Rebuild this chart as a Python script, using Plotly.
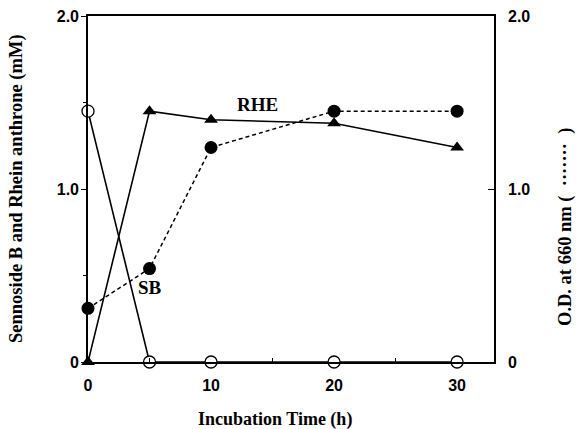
import plotly.graph_objects as go

time_h = [0, 5, 10, 20, 30]
sb_mM = [1.45, 0.0, 0.0, 0.0, 0.0]
rhe_mM = [0.0, 1.45, 1.40, 1.38, 1.24]
od_660 = [0.31, 0.54, 1.24, 1.45, 1.45]

x_ticks = [0, 10, 20, 30]
y_ticks = [0, 1, 2]
y_ticktext = ["0", "1.0", "2.0"]

tickfont = dict(family="Liberation Sans", size=16, color="black")
serif = "Liberation Serif"

fig = go.Figure()
fig.add_trace(go.Scatter(
    x=time_h, y=od_660, yaxis="y2", mode="lines+markers",
    line=dict(color="black", width=1.5, dash="4px,3px"),
    marker=dict(symbol="circle", size=13, color="black"),
    cliponaxis=False, showlegend=False, hoverinfo="skip"))
fig.add_trace(go.Scatter(
    x=time_h, y=sb_mM, mode="lines+markers",
    line=dict(color="black", width=1.6),
    marker=dict(symbol="circle", size=12, color="white",
                line=dict(color="black", width=1.3)),
    cliponaxis=False, showlegend=False, hoverinfo="skip"))
fig.add_trace(go.Scatter(
    x=time_h, y=rhe_mM, mode="lines+markers",
    line=dict(color="black", width=1.6),
    marker=dict(symbol="triangle-up", size=12, color="black"),
    cliponaxis=False, showlegend=False, hoverinfo="skip"))

fig.add_annotation(x=13.8, y=1.49, text="<b>RHE</b>", showarrow=False,
                   xanchor="center", yanchor="middle",
                   font=dict(family=serif, size=19, color="black"))
fig.add_annotation(x=5.0, y=0.43, text="<b>SB</b>", showarrow=False,
                   xanchor="center", yanchor="middle",
                   font=dict(family=serif, size=19, color="black"))

# axis titles
fig.add_annotation(xref="paper", yref="paper", x=0, y=0.5, xshift=-72,
                   xanchor="center", yanchor="middle",
                   textangle=-90, showarrow=False,
                   text="<b>Sennoside B and Rhein anthrone (mM)</b>",
                   font=dict(family=serif, size=18.5, color="black"))
fig.add_annotation(xref="paper", yref="paper", x=1, y=0.5, xshift=71,
                   yshift=-38, xanchor="center", yanchor="middle",
                   textangle=-90, showarrow=False,
                   text="<b>O.D. at 660 nm (  ·······  )</b>",
                   font=dict(family=serif, size=18.5, color="black"))
fig.add_annotation(xref="paper", yref="paper", x=0.5, y=0, yshift=-57,
                   xshift=-16, xanchor="center", yanchor="middle",
                   showarrow=False, text="<b>Incubation Time (h)</b>",
                   font=dict(family=serif, size=18, color="black"))

fig.update_layout(
    width=576, height=429,
    margin=dict(l=88, r=82, t=16, b=67),
    plot_bgcolor="white", paper_bgcolor="white",
    hovermode=False,
    xaxis=dict(range=[0, 33], tickvals=x_ticks,
               ticktext=["<b>%d</b>" % v for v in x_ticks],
               tickfont=tickfont, showgrid=False, zeroline=False,
               showline=True, linecolor="black", linewidth=1.6, mirror=True,
               ticks="inside", ticklen=0, ticklabelstandoff=8,
               minor=dict(tickvals=[5, 15, 25], ticks="inside", ticklen=4,
                          tickcolor="black"),
               ticklabeloverflow="allow", automargin=False),
    yaxis=dict(range=[0, 2], tickvals=y_ticks,
               ticktext=["<b>%s</b>" % t for t in y_ticktext],
               tickfont=tickfont, showgrid=False, zeroline=False,
               showline=True, linecolor="black", linewidth=1.6,
               ticks="outside", ticklen=5, tickcolor="black",
               ticklabelstandoff=-1,
               minor=dict(tickvals=[0.5, 1.5], ticks="outside", ticklen=3,
                          tickcolor="black"),
               ticklabeloverflow="allow", automargin=False),
    yaxis2=dict(range=[0, 2], overlaying="y", side="right", tickvals=y_ticks,
                ticktext=["<b>%s</b>" % t for t in y_ticktext],
                tickfont=tickfont, showgrid=False, zeroline=False,
                showline=True, linecolor="black", linewidth=1.6,
                ticks="inside", ticklen=6, tickcolor="black",
                ticklabelstandoff=9, ticklabeloverflow="allow",
                automargin=False),
)

fig.write_html("out.html",
               config={"displayModeBar": False},
               post_script="document.body.style.margin='0';"
                           "document.body.style.overflow='hidden';")
